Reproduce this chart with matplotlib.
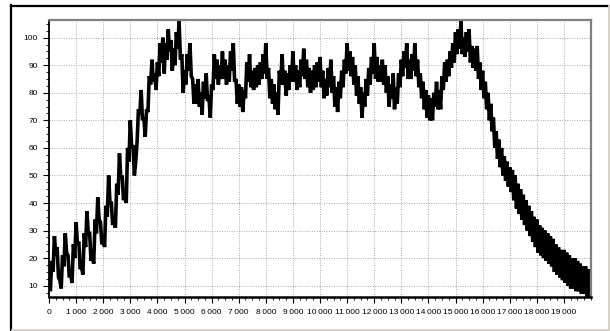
import matplotlib
matplotlib.use("Agg")
import matplotlib.pyplot as plt
from matplotlib.ticker import MultipleLocator, FuncFormatter
from matplotlib.lines import Line2D
import numpy as np

# Trace values sampled every 50 units of x (0 .. 20000)
step = 50
values = [
    # 0 - 3000
    14, 8, 19, 15, 28, 21, 24, 13, 12, 9, 21, 17, 29, 22, 21, 13, 14, 11, 25, 20,
    33, 25, 26, 16, 17, 14, 29, 24, 37, 29, 29, 19, 21, 18, 34, 29, 42, 34, 33, 25,
    28, 24, 39, 35, 50, 40, 40, 32, 35, 31, 47, 43, 58, 49, 50, 41, 44, 40, 60, 55,
    # 3000 - 5000
    70, 60, 61, 50, 55, 62, 74, 72, 81, 70, 71, 64, 74, 73, 86, 83, 92, 84, 87, 81,
    91, 86, 98, 91, 100, 87, 98, 92, 103, 95, 99, 88, 96, 90, 102, 96, 106, 92, 94, 80,
    # 5000 - 9400
    88, 83, 94, 88, 98, 86, 85, 76, 83, 76, 85, 75, 80, 72, 84, 78, 87, 77, 79, 71,
    83, 81, 94, 85, 92, 83, 90, 85, 95, 85, 92, 83, 90, 84, 95, 88, 98, 84, 85, 76,
    83, 75, 82, 73, 81, 78, 91, 84, 94, 82, 88, 81, 89, 82, 90, 83, 91, 85, 94, 87,
    98, 85, 89, 78, 85, 76, 83, 74, 80, 72, 88, 83, 94, 83, 88, 79, 87, 81, 90, 84,
    95, 84, 90, 81, 88, 82, 92, 86, 96,
    # 9450 - 15000
    85, 92, 82, 89, 80, 88, 81, 90, 82, 91, 84,
    93, 82, 88, 78, 85, 79, 89, 82, 92, 80, 86, 75, 82, 73, 84, 78, 88, 82, 92, 87,
    98, 88, 95, 86, 93, 83, 90, 79, 86, 76, 82, 71, 80, 75, 85, 79, 89, 83, 93, 87,
    98, 85, 93, 84, 90, 84, 92, 83, 90, 80, 86, 75, 83, 78, 87, 74, 82, 76, 87, 82,
    92, 86, 95, 89, 98, 85, 92, 85, 94, 88, 98, 86, 92, 82, 87, 78, 84, 74, 81, 71,
    79, 70, 78, 70, 80, 75, 84, 74, 81, 74, 86, 81, 91, 84, 92, 86, 95, 89, 98, 91,
    # 15000 - 17000
    102, 94, 103, 96, 106, 94, 100, 93, 102, 95, 103, 91, 97, 89, 96, 88, 97, 85, 91, 81,
    88, 78, 84, 74, 80, 70, 76, 66, 71, 60, 66, 56, 63, 53, 60, 50, 57, 48, 55, 46,
    # 17000 - 20000
    53, 44, 52, 41, 50, 38, 47, 36, 45, 34, 43, 32, 41, 30, 39, 28, 37, 26, 35, 24,
    34, 22, 32, 21, 31, 20, 30, 19, 29, 18, 28, 17, 27, 15, 25, 14, 24, 13, 23, 12,
    23, 11, 22, 10, 21, 9, 20, 9, 20, 8, 19, 8, 18, 7, 17, 7, 17, 6, 16, 6,
    12,
]
x_values = np.arange(len(values)) * step

x_ticks = list(range(0, 20000, 1000))
y_ticks = list(range(10, 101, 10))

plt.rcParams["font.family"] = ["Liberation Sans", "DejaVu Sans"]

W, H = 610, 331
fig = plt.figure(figsize=(W / 100, H / 100), dpi=100)
fig.patch.set_facecolor("white")

# outer 3D frame
fig.add_artist(Line2D([11 / W, 11 / W], [0, 1 - 5 / H], color="black", lw=1.6, transform=fig.transFigure))
fig.add_artist(Line2D([11 / W, 608 / W], [1 - 5.5 / H, 1 - 5.5 / H], color="black", lw=1.6, transform=fig.transFigure))
fig.add_artist(Line2D([609 / W, 609 / W], [0, 1 - 6 / H], color="#d4d0c8", lw=2, transform=fig.transFigure))
fig.add_artist(Line2D([12 / W, 1], [1.5 / H, 1.5 / H], color="#d4d0c8", lw=2, transform=fig.transFigure))

ax = fig.add_axes([49 / W, 1 - 297 / H, (591 - 49) / W, (297 - 20) / H])
ax.plot(x_values, values, color="black", lw=2.6, solid_joinstyle="miter")
ax.set_xlim(0, 20000)
ax.set_ylim(5.9, 106.4)

ax.set_xticks(x_ticks)
ax.set_yticks(y_ticks)
ax.xaxis.set_minor_locator(MultipleLocator(250))
ax.yaxis.set_minor_locator(MultipleLocator(2.5))
ax.xaxis.set_major_formatter(FuncFormatter(lambda v, p: f"{int(v):,}".replace(",", "\u2009")))
ax.tick_params(axis="both", which="major", length=4, width=0.8, labelsize=6, colors="black", pad=4)
ax.tick_params(axis="both", which="minor", length=2, width=0.6)
ax.tick_params(axis="x", which="major", pad=5)

ax.grid(True, which="major", color="#a8a8a8", linestyle=(0, (1, 1.5)), lw=0.7)
ax.set_axisbelow(True)

for s in ("top", "right"):
    ax.spines[s].set_color("#808080")
    ax.spines[s].set_linewidth(1.6)
ax.spines["left"].set_color("black")
ax.spines["left"].set_linewidth(1.3)
ax.spines["bottom"].set_color("black")
ax.spines["bottom"].set_linewidth(1.8)

fig.savefig("out.png", dpi=100, facecolor="white")
